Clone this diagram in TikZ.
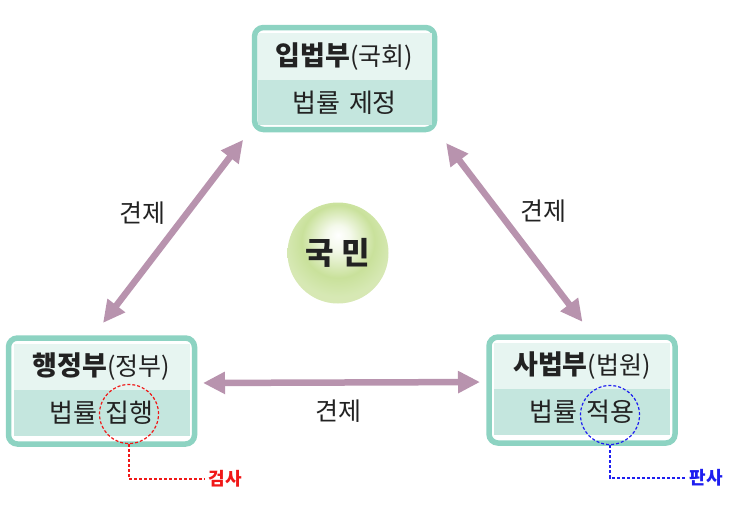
\documentclass[tikz,border=0pt]{standalone}
\usepackage{fontspec}
\setmainfont{Noto Sans CJK KR}
\usetikzlibrary{positioning, arrows.meta}

\definecolor{rimTeal}{HTML}{8DD3C2}
\definecolor{titleFill}{HTML}{E7F5F1}
\definecolor{bodyFill}{HTML}{C4E6DE}
\definecolor{inkGray}{HTML}{222222}
\definecolor{checkMauve}{HTML}{B893AE}
\definecolor{ballGreen}{HTML}{C9E19B}
\definecolor{prosecRed}{HTML}{F01818}
\definecolor{judgeBlue}{HTML}{1E1EF0}

\pgfdeclareradialshading{peopleshade}{\pgfpoint{0bp}{9bp}}{%
  color(0bp)=(white);
  color(6bp)=(white!80!ballGreen);
  color(18bp)=(ballGreen);
  color(26bp)=(ballGreen!75!white);
  color(50bp)=(ballGreen!75!white)}

\begin{document}
\begin{tikzpicture}[x=1pt, y=-1pt,
  branchbox/.style={draw=rimTeal, line width=5.5pt, rounded corners=9pt, fill=white,
                    inner sep=0pt, outer sep=0pt},
  titleband/.style={fill=titleFill, inner sep=0pt, outer sep=0pt, text=inkGray,
                    font=\fontsize{27}{30}\selectfont},
  bodyband/.style={fill=bodyFill, inner sep=0pt, outer sep=0pt, text=inkGray,
                   font=\fontsize{26}{30}\selectfont},
  checkarrow/.style={line width=6.5pt, draw=checkMauve,
                     {Triangle[width=21pt,length=22pt]}-{Triangle[width=21pt,length=22pt]}},
  checklbl/.style={font=\fontsize{25}{28}\selectfont, text=inkGray},
  rolering/.style={circle, dash pattern=on 3pt off 2pt, line width=1.2pt,
                   minimum size=59pt, inner sep=0pt},
  roleline/.style={dash pattern=on 3pt off 2pt, line width=1.2pt},
  rolelbl/.style={font=\fontsize{18}{20}\selectfont\bfseries, anchor=west},
]
\useasboundingbox (0,0) rectangle (743,504);

%% ── Legislature (top) ───────────────────────────────────────────────────────
\node[branchbox, minimum width=180pt, minimum height=102pt] (leg) at (344.5,78.5) {};
\node[titleband, minimum width=174pt, minimum height=47pt, anchor=north]
  (legT) at ([yshift=-5.5pt]leg.north) {\textbf{입법부}{\fontsize{25}{28}\selectfont(국회)}};
\node[bodyband, minimum width=174pt, minimum height=45pt, below=0pt of legT]
  (legB) {법률\hspace{9pt}제정};

%% ── Executive (left) ────────────────────────────────────────────────────────
\node[branchbox, minimum width=186pt, minimum height=106pt] (exe) at (101.5,391) {};
\node[titleband, minimum width=176pt, minimum height=46pt, anchor=north]
  (exeT) at ([yshift=-6pt]exe.north) {\textbf{행정부}{\fontsize{25}{28}\selectfont(정부)}};
\node[bodyband, minimum width=176pt, minimum height=46pt, below=0pt of exeT]
  (exeB) {법률\hspace{9pt}집행};

%% ── Judiciary (right) ───────────────────────────────────────────────────────
\node[branchbox, minimum width=186pt, minimum height=106pt] (jud) at (582,390) {};
\node[titleband, minimum width=176pt, minimum height=46pt, anchor=north]
  (judT) at ([yshift=-6pt]jud.north) {\textbf{사법부}{\fontsize{25}{28}\selectfont(법원)}};
\node[bodyband, minimum width=176pt, minimum height=46pt, below=0pt of judT]
  (judB) {법률\hspace{9pt}적용};

%% ── The people (centre) ─────────────────────────────────────────────────────
\node[circle, minimum size=101pt, inner sep=0pt, shading=peopleshade, text=inkGray,
      font=\fontsize{31}{34}\selectfont\bfseries] (people) at (338,253) {국\hspace{7pt}민};

%% ── Checks and balances ─────────────────────────────────────────────────────
\draw[checkarrow, shorten <=19pt, shorten >=13pt]
  ([xshift=-10pt]exe.north) -- ([xshift=-3.5pt]leg.south west);
\draw[checkarrow, shorten <=17pt, shorten >=19pt]
  ([xshift=1.3pt]leg.south east) -- ([xshift=12pt]jud.north);
\draw[checkarrow, shorten <=8.5pt, shorten >=9pt]
  ([yshift=8pt]exe.east) -- ([yshift=8pt]jud.west);

\node[checklbl] (chkL) at (142,213) {견제};
\node[checklbl] (chkR) at (543,211) {견제};
\node[checklbl] (chkB) at (338,411) {견제};

%% ── Prosecutor / judge call-outs ────────────────────────────────────────────
\node[rolering, draw=prosecRed] (exeRing) at (129,414) {};
\node[rolelbl, text=prosecRed] (prosec) at (205,479) {검사};
\draw[roleline, prosecRed] (exeRing.south) |- (prosec.west);

\node[rolering, draw=judgeBlue] (judRing) at (610,415) {};
\node[rolelbl, text=judgeBlue] (judge) at (686,478) {판사};
\draw[roleline, judgeBlue] (judRing.south) |- (judge.west);

\end{tikzpicture}
\end{document}
